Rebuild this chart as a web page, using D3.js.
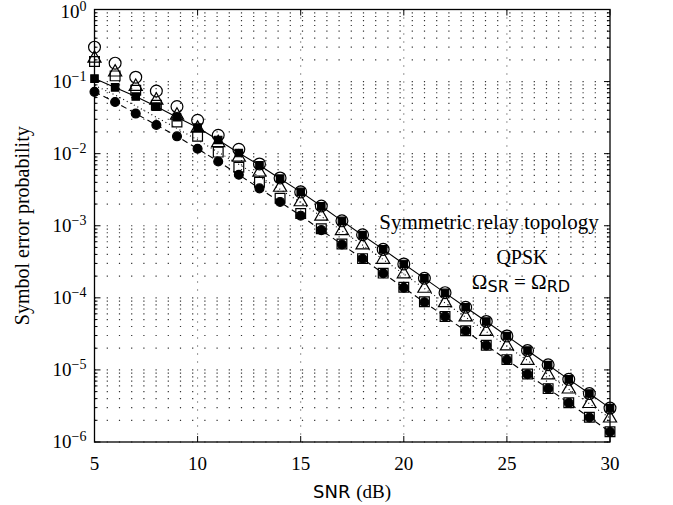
<!DOCTYPE html>
<html>
<head>
<meta charset="utf-8">
<style>
    body{ margin:0; background:#fff; }
    svg text{ fill:#000; }
    .serif{ font-family:'Liberation Serif', 'DejaVu Serif', serif; }
    .sans{ font-family:'DejaVu Sans', sans-serif; }
    .grid line{ stroke:#333; stroke-width:1.2; stroke-dasharray:1.2,11; }
    .vgrid line{ stroke:#333; stroke-width:1; stroke-dasharray:1,7; }
</style>
</head>
<body>
<div id="chart"></div>
<script src="https://d3js.org/d3.v7.min.js"></script>
<script>
// SNR points (dB)
var snr = [5,6,7,8,9,10,11,12,13,14,15,16,17,18,19,20,21,22,23,24,25,26,27,28,29,30];

// solid line, filled squares
var theoryA = [0.110,0.083,0.062,0.045,0.032,0.023,0.0155,0.0102,6.9e-3,4.5e-3,2.95e-3,1.86e-3,1.17e-3,7.4e-4,4.7e-4,2.95e-4,1.86e-4,1.17e-4,7.4e-5,4.7e-5,2.95e-5,1.86e-5,1.17e-5,7.4e-6,4.7e-6,2.95e-6];
// open circles
var simA = [0.30,0.18,0.115,0.074,0.045,0.029,0.018,0.0115,7.2e-3,4.6e-3,2.95e-3,1.88e-3,1.17e-3,7.5e-4,4.7e-4,2.95e-4,1.87e-4,1.18e-4,7.4e-5,4.7e-5,2.96e-5,1.86e-5,1.18e-5,7.4e-6,4.7e-6,2.96e-6];
// dashed line, filled circles
var theoryB = [0.072,0.052,0.036,0.025,0.0174,0.0117,7.8e-3,5.1e-3,3.3e-3,2.14e-3,1.38e-3,8.7e-4,5.5e-4,3.47e-4,2.19e-4,1.38e-4,8.7e-5,5.5e-5,3.47e-5,2.19e-5,1.38e-5,8.7e-6,5.5e-6,3.47e-6,2.19e-6,1.38e-6];
// open squares
var simB = [0.19,0.12,0.076,0.047,0.0275,0.0174,0.0105,6.5e-3,4.0e-3,2.4e-3,1.48e-3,9.1e-4,5.6e-4,3.5e-4,2.2e-4,1.4e-4,8.8e-5,5.5e-5,3.5e-5,2.2e-5,1.39e-5,8.8e-6,5.5e-6,3.5e-6,2.2e-6,1.39e-6];
// dotted line
var theoryC = [0.089,0.065,0.046,0.032,0.0224,0.0155,0.0105,7.1e-3,4.8e-3,3.2e-3,2.1e-3,1.35e-3,8.5e-4,5.4e-4,3.4e-4,2.14e-4,1.35e-4,8.5e-5,5.4e-5,3.4e-5,2.14e-5,1.35e-5,8.5e-6,5.4e-6,3.4e-6,2.14e-6];
// open triangles
var simC = [0.21,0.135,0.085,0.055,0.034,0.0224,0.0141,8.9e-3,5.5e-3,3.4e-3,2.14e-3,1.35e-3,8.5e-4,5.4e-4,3.4e-4,2.14e-4,1.35e-4,8.5e-5,5.4e-5,3.4e-5,2.14e-5,1.35e-5,8.5e-6,5.4e-6,3.4e-6,2.14e-6];

var xTicks = [5,10,15,20,25,30];
var yExponents = [0,-1,-2,-3,-4,-5,-6];

var W = 673, H = 505;
var margin = {top: 9.5, right: 63, bottom: 63, left: 94.5},
    width = W - margin.left - margin.right,
    height = H - margin.top - margin.bottom;

var svg = d3.select("#chart").append("svg")
    .attr("width", W).attr("height", H);
var g = svg.append("g")
    .attr("transform", "translate(" + margin.left + "," + margin.top + ")");

var x = d3.scaleLinear().domain([5,30]).range([0,width]);
var y = d3.scaleLog().domain([1e-6,1]).range([height,0]);

// minor + major horizontal grid
var yGrid = [];
yExponents.forEach(function(e){
    if (e < 0) for (var m = 1; m < 10; m++) yGrid.push(m * Math.pow(10, e));
});
g.append("g").attr("class","grid")
    .selectAll("line").data(yGrid).enter().append("line")
    .attr("x1",0).attr("x2",width)
    .attr("y1",function(d){ return y(d); }).attr("y2",function(d){ return y(d); });

g.append("g").attr("class","vgrid")
    .selectAll("line").data(xTicks.slice(1,-1)).enter().append("line")
    .attr("x1",function(d){ return x(d); }).attr("x2",function(d){ return x(d); })
    .attr("y1",0).attr("y2",height);

// lines
function pts(arr){ return snr.map(function(s,i){ return [s, arr[i]]; }); }
var line = d3.line().x(function(d){ return x(d[0]); }).y(function(d){ return y(d[1]); });

g.append("path").datum(pts(theoryA)).attr("d",line)
    .attr("fill","none").attr("stroke","#000").attr("stroke-width",1.1);
g.append("path").datum(pts(theoryB)).attr("d",line)
    .attr("fill","none").attr("stroke","#000").attr("stroke-width",1.1)
    .attr("stroke-dasharray","6,4");
g.append("path").datum(pts(theoryC)).attr("d",line)
    .attr("fill","none").attr("stroke","#000").attr("stroke-width",1.1)
    .attr("stroke-dasharray","1,3");

// markers
function markers(arr, type, filled, size){
    var sym = d3.symbol().type(type).size(size);
    g.append("g").selectAll("path").data(pts(arr)).enter().append("path")
        .attr("transform",function(d){ return "translate(" + x(d[0]) + "," + y(d[1]) + ")"; })
        .attr("d", sym)
        .attr("fill", filled ? "#000" : "none")
        .attr("stroke","#000").attr("stroke-width",1.2);
}
markers(simA, d3.symbolCircle, false, 110);
markers(simC, d3.symbolTriangle, false, 75);
markers(simB, d3.symbolSquare, false, 95);
markers(theoryA, d3.symbolSquare, true, 55);
markers(theoryB, d3.symbolCircle, true, 62);

// axes box
var tickLen = 6, minorLen = 3;
g.append("rect").attr("width",width).attr("height",height)
    .attr("fill","none").attr("stroke","#000").attr("stroke-width",1.3);

var ax = g.append("g").attr("stroke","#000").attr("stroke-width",1);
xTicks.forEach(function(t){
    ax.append("line").attr("x1",x(t)).attr("x2",x(t)).attr("y1",height).attr("y2",height-tickLen);
    ax.append("line").attr("x1",x(t)).attr("x2",x(t)).attr("y1",0).attr("y2",tickLen);
});
yGrid.concat([1]).forEach(function(v){
    var len = Math.abs(Math.log10(v) - Math.round(Math.log10(v))) < 1e-9 ? tickLen : minorLen;
    ax.append("line").attr("x1",0).attr("x2",len).attr("y1",y(v)).attr("y2",y(v));
    ax.append("line").attr("x1",width).attr("x2",width-len).attr("y1",y(v)).attr("y2",y(v));
});

// tick labels
g.append("g").selectAll("text").data(xTicks).enter().append("text")
    .attr("class","serif").attr("font-size",19)
    .attr("text-anchor","middle")
    .attr("x",function(d){ return x(d); }).attr("y",height+28)
    .text(function(d){ return d; });

var yl = g.append("g").selectAll("text").data(yExponents).enter().append("text")
    .attr("class","serif").attr("font-size",19)
    .attr("text-anchor","end")
    .attr("x",-8).attr("y",function(d){ return y(Math.pow(10,d)) + (d === 0 ? 8 : 6); });
yl.append("tspan").text("10");
yl.append("tspan").attr("font-size",14).attr("dy",-7)
    .text(function(d){ return d === 0 ? "0" : "\u2212" + (-d); });

// axis titles
svg.append("text").attr("text-anchor","middle")
    .attr("x",352).attr("y",498)
    .call(function(t){
        t.append("tspan").attr("class","sans").attr("font-size",18).text("SNR ");
        t.append("tspan").attr("class","serif").attr("font-size",19).text("(dB)");
    });

svg.append("text").attr("class","serif").attr("font-size",20)
    .attr("text-anchor","middle")
    .attr("transform","translate(29," + (margin.top + height/2) + ") rotate(-90)")
    .text("Symbol error probability");

// annotation
var ann = svg.append("g").attr("class","serif");
ann.append("text").attr("font-size",21).attr("text-anchor","middle")
    .attr("x",489).attr("y",229).text("Symmetric relay topology");
ann.append("text").attr("font-size",20).attr("text-anchor","middle")
    .attr("x",522).attr("y",264).text("QPSK");
var om = ann.append("text").attr("font-size",21).attr("text-anchor","middle")
    .attr("x",521).attr("y",289);
om.append("tspan").text("\u03A9");
om.append("tspan").attr("class","sans").attr("font-size",16).attr("dy",3).text("SR");
om.append("tspan").attr("dy",-3).text(" = \u03A9");
om.append("tspan").attr("class","sans").attr("font-size",16).attr("dy",3).text("RD");
</script>
</body>
</html>
